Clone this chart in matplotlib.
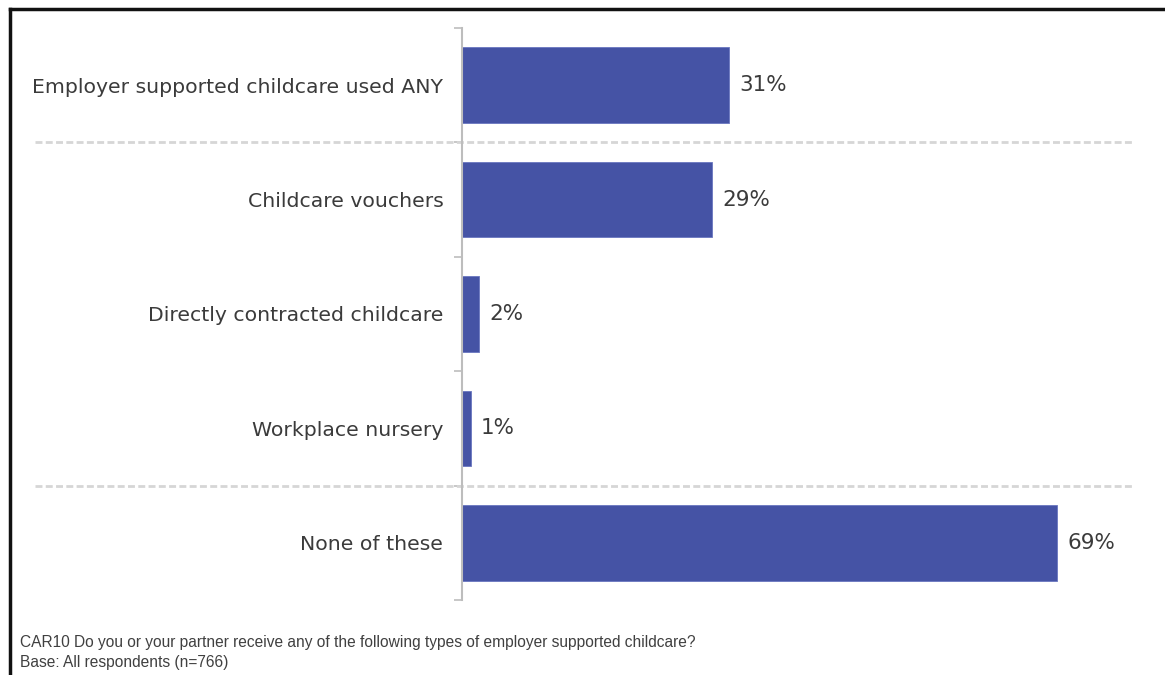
import matplotlib
matplotlib.use("Agg")
import matplotlib.pyplot as plt
from matplotlib.lines import Line2D
import numpy as np

categories = ["Employer supported childcare used ANY", "Childcare vouchers",
              "Directly contracted childcare", "Workplace nursery", "None of these"]
values = [31, 29, 2, 1, 69]
value_labels = ["31%", "29%", "2%", "1%", "69%"]
separators_after = [0, 3]  # dashed line below these rows
footnote = ["CAR10 Do you or your partner receive any of the following types of employer supported childcare?",
            "Base: All respondents (n=766)"]

bar_color = "#4553A5"
text_color = "#3b3b3b"

fig = plt.figure(figsize=(11.65, 6.75), dpi=100)
ax = fig.add_axes([462 / 1165, 1 - 600 / 675, (1135 - 462) / 1165, 572 / 675])

y = np.arange(len(categories))
ax.barh(y, values, height=0.66, color=bar_color, edgecolor="#6a76c0", linewidth=0.6)
ax.set_xlim(0, 78)
ax.set_ylim(len(categories) - 0.5, -0.5)

for yi, v, lab in zip(y, values, value_labels):
    ax.annotate(lab, (v, yi), xytext=(7, 0), textcoords="offset points",
                va="center", ha="left", fontsize=15.5, color=text_color)

ax.set_yticks(y)
ax.set_yticklabels(categories, fontsize=14.7, color=text_color)
ax.tick_params(axis="y", which="major", length=0, pad=13.5)
ax.set_yticks(np.arange(-0.5, len(categories)), minor=True)
ax.tick_params(axis="y", which="minor", length=6, color="#bdbdbd", width=1.2)
ax.set_xticks([])

for s in ["top", "right", "bottom"]:
    ax.spines[s].set_visible(False)
ax.spines["left"].set_color("#bdbdbd")
ax.spines["left"].set_linewidth(1.5)

for i in separators_after:
    ax.plot([-0.634, 0.997], [i + 0.5, i + 0.5], transform=ax.get_yaxis_transform(),
            color="#d6d6d6", linestyle=(0, (2.5, 1.2)), linewidth=2, clip_on=False)

fig.text(20 / 1165, 1 - 642 / 675, footnote[0], fontsize=11.2, color="#404040",
         family="Liberation Sans", va="center")
fig.text(20 / 1165, 1 - 662 / 675, footnote[1], fontsize=11.2, color="#404040",
         family="Liberation Sans", va="center")

# outer frame (left and top edges)
fig.add_artist(Line2D([9.5 / 1165, 9.5 / 1165], [0, 1 - 9 / 675], transform=fig.transFigure,
                      color="#111111", linewidth=2.5))
fig.add_artist(Line2D([9.5 / 1165, 1], [1 - 9 / 675, 1 - 9 / 675], transform=fig.transFigure,
                      color="#111111", linewidth=2.5))

fig.savefig("out.png", dpi=100)
